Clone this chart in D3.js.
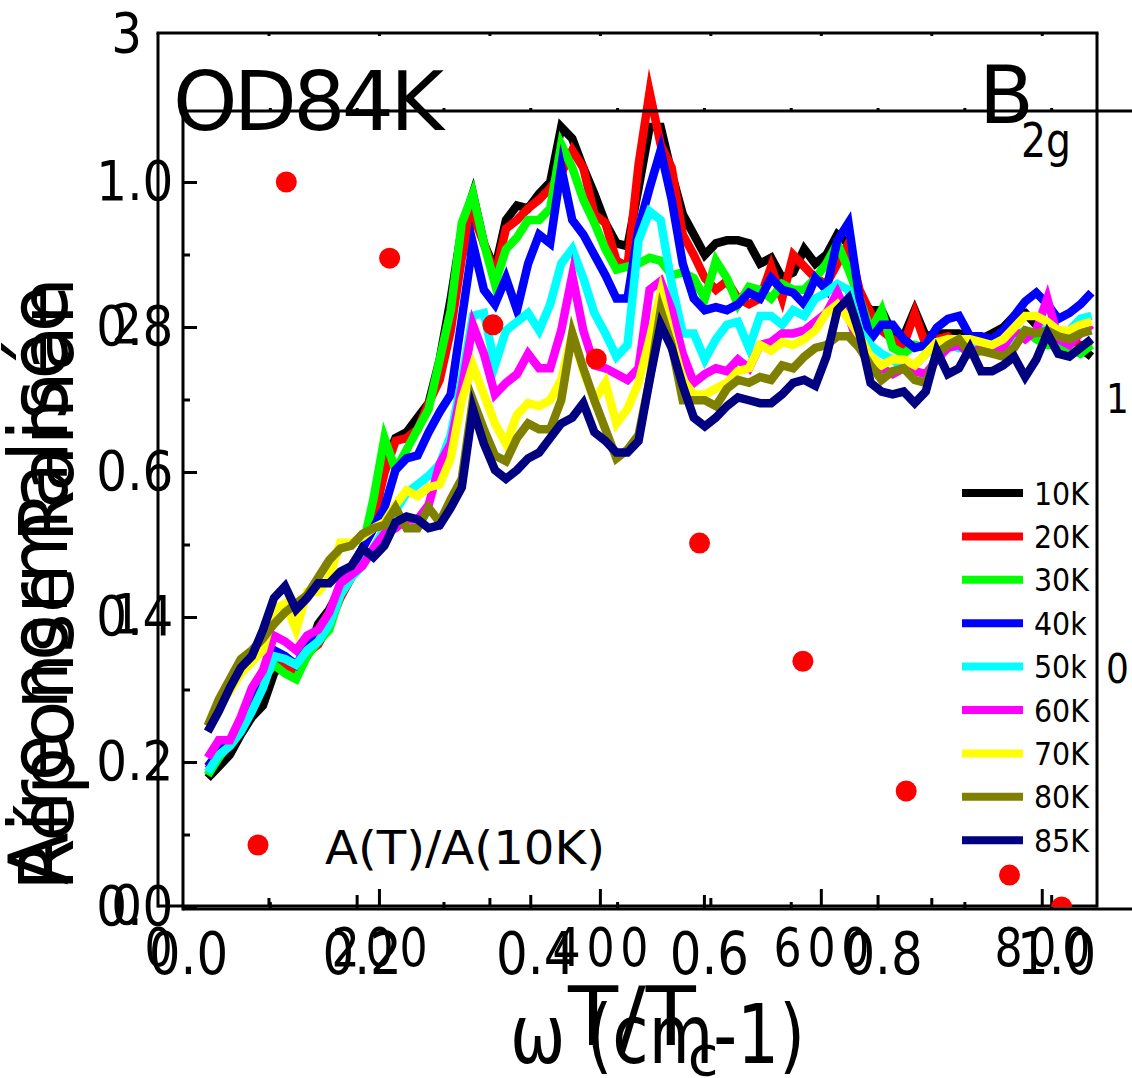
<!DOCTYPE html>
<html><head><meta charset="utf-8">
<script src="https://cdn.jsdelivr.net/npm/d3@7"></script>
<style>
html,body{margin:0;padding:0;background:#fff;}
svg{display:block;}
text{font-family:"DejaVu Sans",sans-serif;fill:#000;}
</style></head><body>
<svg id="chart" width="1132" height="1078"></svg>
<script>
// Raman shift (cm-1)
const omega = [45,55,65,75,85,95,105,115,125,135,
145,155,165,175,185,195,205,215,225,235,
245,255,265,275,285,295,305,315,325,335,
345,355,365,375,385,395,405,415,425,435,
445,455,465,475,485,495,505,515,525,535,
545,555,565,575,585,595,605,615,625,635,
645,655,665,675,685,695,705,715,725,735,
745,755,765,775,785,795,805,815,825,835,
845];

const seriesNames = ["10K","20K","30K","40k","50k","60K","70K","80K","85K"];
const seriesColors = ["#000000","#ff0000","#00ff00","#0000ff","#00ffff","#ff00ff","#ffff00","#808000","#000080"];

const r10K = [0.44,0.48,0.52,0.59,0.65,0.69,0.80,0.85,0.82,0.86,
0.97,1.02,1.09,1.16,1.23,1.30,1.52,1.61,1.63,1.68,
1.73,1.88,2.09,2.33,2.45,2.28,2.19,2.36,2.41,2.40,
2.45,2.49,2.68,2.64,2.54,2.45,2.35,2.28,2.27,2.47,
2.68,2.68,2.52,2.38,2.31,2.24,2.28,2.29,2.29,2.28,
2.21,2.23,2.16,2.18,2.26,2.21,2.24,2.31,2.28,2.09,
2.05,2.05,1.97,1.96,2.05,1.96,1.97,1.97,1.97,1.96,
1.95,1.97,1.99,2.03,2.04,2.00,2.00,1.96,1.97,1.92,
1.89];
const r20K = [0.47,0.51,0.56,0.63,0.69,0.79,0.83,0.82,0.80,0.87,
0.90,0.97,1.06,1.13,1.23,1.33,1.49,1.60,1.61,1.64,
1.73,1.81,1.98,2.23,2.38,2.28,2.17,2.33,2.36,2.40,
2.43,2.47,2.52,2.60,2.54,2.38,2.35,2.22,2.20,2.55,
2.80,2.62,2.54,2.31,2.24,2.16,2.12,2.15,2.09,2.07,
2.09,2.20,2.09,2.24,2.20,2.16,2.14,2.21,2.28,2.12,
2.04,1.98,1.95,1.93,2.04,1.93,1.95,1.96,1.93,1.95,
1.92,1.93,1.95,1.93,1.97,1.96,1.95,1.94,1.93,1.93,
1.92];
const r30K = [0.45,0.51,0.56,0.62,0.68,0.78,0.83,0.80,0.78,0.86,
0.91,0.95,1.07,1.13,1.23,1.40,1.61,1.50,1.57,1.64,
1.71,1.88,2.05,2.35,2.45,2.28,2.14,2.26,2.30,2.36,
2.36,2.40,2.62,2.54,2.43,2.35,2.26,2.19,2.20,2.21,
2.23,2.22,2.17,2.18,2.16,2.09,2.22,2.16,2.07,2.13,
2.12,2.09,2.14,2.12,2.12,2.16,2.21,2.28,2.19,2.09,
1.98,2.05,1.92,1.90,1.93,1.92,1.93,1.95,1.92,1.93,
1.92,1.93,1.94,1.96,1.98,1.95,1.93,1.93,1.92,1.90,
1.93];
const r40K = [0.48,0.53,0.57,0.63,0.69,0.78,0.88,0.86,0.83,0.89,
0.94,1.00,1.10,1.16,1.23,1.30,1.37,1.50,1.54,1.55,
1.63,1.70,1.76,2.02,2.28,2.12,2.07,2.16,2.05,2.21,
2.31,2.28,2.54,2.36,2.31,2.24,2.17,2.09,2.09,2.33,
2.47,2.60,2.43,2.21,2.09,2.05,2.06,2.05,2.07,2.11,
2.09,2.16,2.12,2.11,2.07,2.16,2.12,2.29,2.35,2.09,
1.95,2.00,2.00,1.95,1.92,1.93,1.99,2.02,2.03,1.96,
1.96,1.95,1.98,2.03,2.08,2.11,2.07,2.02,2.04,2.07,
2.11];
const r50K = [0.46,0.52,0.55,0.60,0.67,0.75,0.86,0.85,0.83,0.88,
0.91,0.97,1.07,1.13,1.17,1.23,1.30,1.36,1.42,1.45,
1.48,1.52,1.62,1.81,2.03,2.04,1.86,1.98,2.01,2.04,
1.98,2.07,2.21,2.26,2.16,2.04,1.97,1.89,1.93,2.29,
2.39,2.36,2.14,1.97,1.97,1.88,1.95,2.00,2.01,1.92,
2.03,2.03,2.00,2.05,2.03,2.09,2.11,2.14,2.12,1.98,
1.93,1.90,1.88,1.85,1.86,1.90,1.92,1.93,1.92,1.92,
1.91,1.92,1.93,1.95,1.98,1.97,2.00,1.95,1.98,2.02,
2.03];
const r60K = [0.51,0.57,0.57,0.65,0.75,0.81,0.93,0.91,0.88,0.93,
0.95,1.01,1.11,1.14,1.17,1.23,1.28,1.30,1.33,1.33,
1.38,1.52,1.59,1.78,2.00,1.90,1.76,1.80,1.83,1.90,
1.85,1.85,1.98,2.17,1.98,1.86,1.85,1.83,1.81,1.85,
2.12,2.15,2.05,1.90,1.80,1.83,1.85,1.84,1.88,1.85,
1.93,1.94,1.97,1.97,1.98,2.01,2.04,2.11,2.03,1.92,
1.87,1.85,1.83,1.85,1.84,1.83,1.88,1.92,1.93,1.90,
1.92,1.91,1.92,1.98,1.95,1.98,2.09,1.95,1.93,1.97,
2.00];
const r70K = [0.62,0.68,0.74,0.80,0.84,0.88,1.02,1.04,0.95,1.08,
1.08,1.13,1.25,1.25,1.27,1.30,1.32,1.38,1.43,1.41,
1.44,1.45,1.54,1.74,1.86,1.76,1.66,1.59,1.69,1.73,
1.72,1.74,1.81,1.97,1.84,1.74,1.80,1.66,1.71,1.80,
1.95,2.11,1.95,1.81,1.76,1.76,1.78,1.80,1.84,1.85,
1.93,1.91,1.94,1.93,1.95,1.98,2.04,2.07,2.02,1.96,
1.89,1.86,1.88,1.88,1.86,1.90,1.94,1.95,1.95,1.95,
1.94,1.93,1.95,1.99,2.03,2.03,2.01,1.98,1.98,2.00,
2.01];
const r80K = [0.62,0.71,0.78,0.85,0.88,0.92,0.97,1.01,1.04,1.07,
1.13,1.19,1.23,1.24,1.28,1.30,1.31,1.37,1.30,1.30,
1.37,1.32,1.40,1.47,1.74,1.64,1.55,1.53,1.61,1.66,
1.64,1.64,1.74,1.97,1.85,1.74,1.64,1.54,1.57,1.62,
1.81,2.05,1.93,1.74,1.74,1.74,1.72,1.78,1.81,1.80,
1.82,1.81,1.86,1.85,1.89,1.92,1.93,1.96,1.96,1.92,
1.86,1.81,1.84,1.85,1.81,1.80,1.90,1.93,1.95,1.90,
1.91,1.90,1.89,1.92,1.98,1.97,1.98,1.96,1.95,1.97,
1.98];
const r85K = [0.60,0.67,0.75,0.82,0.86,0.95,1.06,1.10,1.02,1.06,
1.11,1.11,1.15,1.17,1.23,1.20,1.24,1.32,1.34,1.33,
1.30,1.31,1.37,1.44,1.71,1.59,1.50,1.47,1.50,1.54,
1.56,1.61,1.66,1.68,1.73,1.63,1.60,1.56,1.56,1.60,
1.81,2.00,1.92,1.79,1.68,1.65,1.68,1.72,1.75,1.74,
1.73,1.73,1.76,1.80,1.81,1.79,1.89,2.05,2.09,1.97,
1.80,1.77,1.76,1.77,1.73,1.77,1.91,1.83,1.85,1.92,
1.84,1.84,1.86,1.89,1.82,1.88,1.97,1.90,1.89,1.92,
1.95];

// Normalised area vs reduced temperature
const tOverTc = [0.119,0.238,0.357,0.476,0.595,0.714,0.833,0.952,1.012];
const areaNorm = [1.000,0.895,0.803,0.756,0.502,0.339,0.160,0.044,0.000];

// tick labels
const ramanTicks = [0,1,2,3];
const omegaTicks = [0,200,400,600,800];
const omegaMinor = [100,300,500,700];
const areaTicks = [0.0,0.2,0.4,0.6,0.8,1.0];
const areaMinor = [0.1,0.3,0.5,0.7,0.9];
const tTicks = [0.0,0.2,0.4,0.6,0.8,1.0];
const tMinor = [0.1,0.3,0.5,0.7,0.9];
const rightTicks = [0,1];

const seriesData = [r10K,r20K,r30K,r40K,r50K,r60K,r70K,r80K,r85K];

const svg = d3.select("#chart");

// Frame A: Raman response vs omega
const xA = d3.scaleLinear().domain([0,850]).range([158,1097]);
const yA = d3.scaleLinear().domain([0,3]).range([906,34]);
// Frame B: normalised area vs T/Tc
const xB = d3.scaleLinear().domain([0,1.1]).range([183,1138]);
const yB = d3.scaleLinear().domain([0,1.1]).range([907,109.5]);
// right-hand stray scale
const yR = d3.scaleLinear().domain([0,1]).range([670,400]);

const defs = svg.append("defs");
defs.append("clipPath").attr("id","clipB").append("rect")
  .attr("x",183).attr("y",109).attr("width",960).attr("height",798);

// data lines
const line = d3.line().x((d,i)=>xA(omega[i])).y(d=>yA(d));
svg.append("g").selectAll("path").data(seriesData).join("path")
  .attr("d",line).attr("fill","none")
  .attr("stroke",(d,i)=>seriesColors[i])
  .attr("stroke-width",8.5)
  .attr("stroke-linejoin","miter").attr("stroke-miterlimit",6);

function styleAxis(g, fs, sx, ls){
  g.select(".domain").remove();
  g.selectAll("line").attr("stroke","#000").attr("stroke-width",3);
  g.selectAll("text").attr("font-size",fs).attr("fill","#000")
    .attr("transform",`scale(${sx||1},1)`)
    .style("letter-spacing", ls||"0px");
}

// Frame A axes
svg.append("g").attr("transform","translate(158,0)")
  .call(d3.axisLeft(yA).tickValues(ramanTicks).tickSize(0).tickPadding(18).tickFormat(d3.format("d")))
  .call(g=>styleAxis(g,55,0.88));
svg.append("g").attr("transform","translate(3,906)")
  .call(d3.axisBottom(xA).tickValues(omegaTicks).tickSize(0).tickPadding(22).tickFormat(d3.format("d")))
  .call(g=>styleAxis(g,54,0.82,"7px"));
svg.append("g").attr("transform","translate(0,906)")
  .call(d3.axisTop(xA).tickValues(omegaTicks.slice(1)).tickSize(17).tickFormat(""))
  .call(g=>styleAxis(g,10));
svg.append("g").attr("transform","translate(0,906)")
  .call(d3.axisTop(xA).tickValues(omegaMinor).tickSize(8).tickFormat(""))
  .call(g=>styleAxis(g,10));
svg.append("g").attr("transform","translate(0,33)")
  .call(d3.axisBottom(xA).tickValues(omegaMinor.concat(omegaTicks.slice(1))).tickSize(3).tickFormat(""))
  .call(g=>styleAxis(g,10));

// Frame A border
const frameA = svg.append("g").attr("stroke","#000").attr("stroke-width",3).attr("fill","none");
frameA.append("line").attr("x1",xA(0)).attr("x2",xA(0)).attr("y1",33).attr("y2",907.5);
frameA.append("line").attr("x1",xA(0)-1.5).attr("x2",xA(850)+1.5).attr("y1",33).attr("y2",33);
frameA.append("line").attr("x1",xA(850)).attr("x2",xA(850)).attr("y1",33).attr("y2",907.5);
frameA.append("line").attr("x1",xA(0)).attr("x2",xA(850)).attr("y1",906).attr("y2",906);

// Frame B axes
svg.append("g").attr("transform","translate(183,0)")
  .call(d3.axisLeft(yB).tickValues(areaTicks).tickSize(0).tickPadding(11).tickFormat(d3.format(".1f")))
  .call(g=>styleAxis(g,55,0.88));
svg.append("g").attr("transform","translate(183,0)")
  .call(d3.axisRight(yB).tickValues(areaTicks).tickSize(14).tickFormat(""))
  .call(g=>styleAxis(g,10));
svg.append("g").attr("transform","translate(183,0)")
  .call(d3.axisRight(yB).tickValues(areaMinor).tickSize(7).tickFormat(""))
  .call(g=>styleAxis(g,10));
svg.append("g").attr("transform","translate(5,909)")
  .call(d3.axisBottom(xB).tickValues(tTicks).tickSize(0).tickPadding(24).tickFormat(d3.format(".1f")))
  .call(g=>styleAxis(g,58,0.86));
svg.append("g").attr("transform","translate(0,909)")
  .call(d3.axisTop(xB).tickValues(tTicks.slice(1)).tickSize(14).tickFormat(""))
  .call(g=>styleAxis(g,10));
svg.append("g").attr("transform","translate(0,909)")
  .call(d3.axisTop(xB).tickValues(tMinor).tickSize(7).tickFormat(""))
  .call(g=>styleAxis(g,10));
svg.append("g").attr("transform","translate(0,111)")
  .call(d3.axisTop(xB).tickValues(tTicks.slice(1).concat(tMinor)).tickSize(3).tickFormat(""))
  .call(g=>styleAxis(g,10));

const frameB = svg.append("g").attr("stroke","#000").attr("stroke-width",3).attr("fill","none");
frameB.append("line").attr("x1",xB(0)).attr("x2",xB(0)).attr("y1",111).attr("y2",910.5);
frameB.append("line").attr("x1",xB(0)-1.5).attr("x2",xB(1.1)).attr("y1",111).attr("y2",111);
frameB.append("line").attr("x1",xB(0)).attr("x2",xB(1.1)).attr("y1",909).attr("y2",909);

// right stray labels
svg.append("g").attr("transform","translate(1097,0)")
  .call(d3.axisRight(yR).tickValues(rightTicks).tickSize(0).tickPadding(10).tickFormat(d3.format("d")))
  .call(g=>styleAxis(g,40,0.9));

// red dots (clipped to frame B)
svg.append("g").attr("clip-path","url(#clipB)")
  .selectAll("circle").data(tOverTc).join("circle")
  .attr("cx",d=>xB(d)).attr("cy",(d,i)=>yB(areaNorm[i])).attr("r",10.5).attr("fill","#ff0000");

// legend
const leg = svg.append("g");
seriesNames.forEach((name,i)=>{
  const y = 493 + i*43.4;
  leg.append("line").attr("x1",962).attr("x2",1023).attr("y1",y).attr("y2",y)
    .attr("stroke",seriesColors[i]).attr("stroke-width",8);
  leg.append("text").attr("transform",`translate(1034,${y+11.5}) scale(0.89,1)`)
    .attr("font-size",32).text(name);
});
leg.append("circle").attr("cx",258).attr("cy",845).attr("r",10.5).attr("fill","#ff0000");
leg.append("text").attr("x",325).attr("y",864).attr("font-size",47)
  .attr("textLength",280).attr("lengthAdjust","spacingAndGlyphs").text("A(T)/A(10K)");

// titles
svg.append("text").attr("x",173).attr("y",130).attr("font-size",82)
  .attr("textLength",271).attr("lengthAdjust","spacing").text("OD84K");
svg.append("text").attr("x",979).attr("y",123).attr("font-size",80).text("B");
svg.append("text").attr("x",1021).attr("y",157).attr("font-size",48)
  .attr("textLength",50).attr("lengthAdjust","spacingAndGlyphs").text("2g");

svg.append("text").attr("transform","translate(67,585) rotate(-90)")
  .attr("text-anchor","middle").attr("font-size",82)
  .attr("textLength",600).attr("lengthAdjust","spacingAndGlyphs").text("Aire normalisée");
svg.append("text").attr("transform","translate(73,584) rotate(-90)")
  .attr("text-anchor","middle").attr("font-size",74)
  .attr("textLength",614).attr("lengthAdjust","spacingAndGlyphs").text("Réponse Raman");

const tt = svg.append("text").attr("x",568).attr("y",1045).attr("font-size",82);
tt.append("tspan").text("T/T");
tt.append("tspan").attr("font-size",56).attr("dx",-8).attr("dy",30).text("c");

svg.append("text").attr("x",510).attr("y",1063).attr("font-size",82)
  .attr("textLength",295).attr("lengthAdjust","spacingAndGlyphs").text("ω (cm-1)");
</script>
</body></html>
